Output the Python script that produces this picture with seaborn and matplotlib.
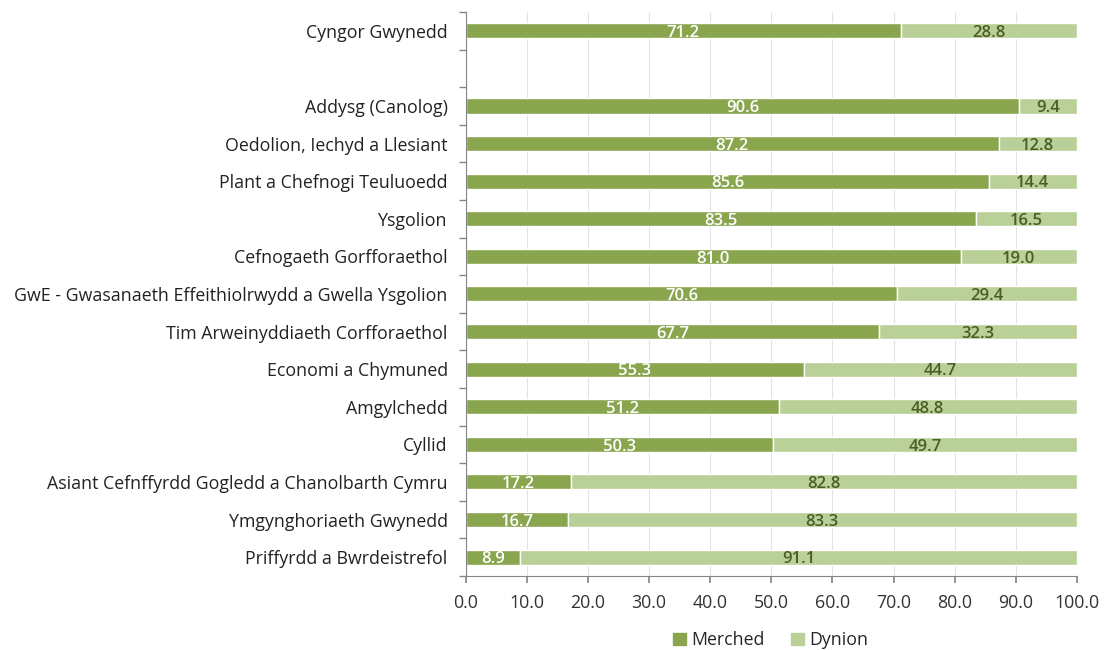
import numpy as np
import pandas as pd
import matplotlib
matplotlib.use("Agg")
import matplotlib.pyplot as plt
import seaborn as sns
from matplotlib.patches import Patch

categories = [
    "Cyngor Gwynedd",
    "Addysg (Canolog)",
    "Oedolion, Iechyd a Llesiant",
    "Plant a Chefnogi Teuluoedd",
    "Ysgolion",
    "Cefnogaeth Gorfforaethol",
    "GwE - Gwasanaeth Effeithiolrwydd a Gwella Ysgolion",
    "Tim Arweinyddiaeth Corfforaethol",
    "Economi a Chymuned",
    "Amgylchedd",
    "Cyllid",
    "Asiant Cefnffyrdd Gogledd a Chanolbarth Cymru",
    "Ymgynghoriaeth Gwynedd",
    "Priffyrdd a Bwrdeistrefol",
]
merched = [71.2, 90.6, 87.2, 85.6, 83.5, 81.0, 70.6, 67.7, 55.3, 51.2, 50.3, 17.2, 16.7, 8.9]
dynion = [28.8, 9.4, 12.8, 14.4, 16.5, 19.0, 29.4, 32.3, 44.7, 48.8, 49.7, 82.8, 83.3, 91.1]
series_names = ["Merched", "Dynion"]
x_ticks = [0, 10, 20, 30, 40, 50, 60, 70, 80, 90, 100]

DARK = "#89A54E"
LIGHT = "#B9D098"
LABEL_DARK = "#4A5E24"

sns.set_theme(style="white")
plt.rcParams["font.family"] = ["Open Sans", "DejaVu Sans"]

df = pd.DataFrame({"cat": categories, "Merched": merched, "Dynion": dynion})
order = [categories[0], " "] + categories[1:]
pos = {c: i for i, c in enumerate(order)}

fig = plt.figure(figsize=(11.09, 6.5), dpi=100)
ax = fig.add_axes([0.420, 0.114, 0.551, 0.8675])

sns.barplot(data=df, x="Merched", y="cat", order=order, color=DARK,
            width=0.4, saturation=1, ax=ax, orient="h")
ypos = [pos[c] for c in df["cat"]]
ax.barh(ypos, df["Dynion"], left=df["Merched"], height=0.4, color=LIGHT)

for y, m, d in zip(ypos, df["Merched"], df["Dynion"]):
    ax.text(m / 2, y + 0.06, f"{m:.1f}", ha="center", va="center", color="white",
            fontsize=12, fontweight="semibold")
    ax.text(m + d / 2, y + 0.06, f"{d:.1f}", ha="center", va="center", color=LABEL_DARK,
            fontsize=12, fontweight="semibold")

ax.set_xlim(0, 100)
ax.set_ylim(len(order) - 0.5, -0.5)
ax.set_xticks(x_ticks)
ax.set_xticklabels([f"{t:.1f}" for t in x_ticks], fontsize=12.8, color="#333333")
ax.set_yticks(range(len(order)))
ax.set_yticklabels(order, fontsize=12.8, color="#222222")
ax.set_yticks(np.arange(-0.5, len(order), 1), minor=True)
ax.tick_params(axis="y", which="major", length=0, pad=13)
ax.tick_params(axis="y", which="minor", length=5, color="#868686", left=True)
ax.tick_params(axis="x", which="major", length=5, color="#868686", bottom=True, pad=8)
ax.set_xlabel("")
ax.set_ylabel("")
ax.grid(axis="x", color="#E3E3E3", linewidth=0.8)
ax.set_axisbelow(True)
for s in ["top", "right"]:
    ax.spines[s].set_visible(False)
for s in ["left", "bottom"]:
    ax.spines[s].set_color("#868686")
    ax.spines[s].set_linewidth(0.8)

handles = [Patch(color=DARK, label=series_names[0]), Patch(color=LIGHT, label=series_names[1])]
fig.legend(handles=handles, loc="center", bbox_to_anchor=(0.695, 0.015), ncol=2,
           frameon=False, fontsize=12.8, handlelength=0.7, handleheight=0.7,
           columnspacing=1.5, handletextpad=0.3)

fig.savefig("out.png", dpi=100)
